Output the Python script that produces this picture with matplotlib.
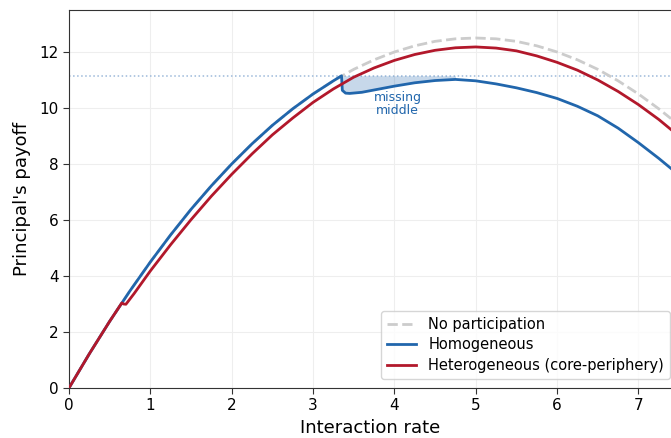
import numpy as np
import matplotlib
matplotlib.use("Agg")
import matplotlib.pyplot as plt

# values
x_none = [0, 0.25, 0.5, 0.75, 1.0, 1.25, 1.5, 1.75, 2.0, 2.25, 2.5, 2.75, 3.0, 3.25,
          3.5, 3.75, 4.0, 4.25, 4.5, 4.75, 5.0, 5.25, 5.5, 5.75, 6.0, 6.25, 6.5, 6.75,
          7.0, 7.25, 7.4]
y_none = [0, 1.22, 2.38, 3.47, 4.5, 5.47, 6.38, 7.22, 8.0, 8.72, 9.38, 9.97, 10.5, 10.97,
          11.38, 11.72, 12.0, 12.22, 12.38, 12.47, 12.5, 12.47, 12.38, 12.22, 12.0, 11.72,
          11.38, 10.97, 10.5, 9.97, 9.62]

x_homo = [0, 0.25, 0.5, 0.75, 1.0, 1.25, 1.5, 1.75, 2.0, 2.25, 2.5, 2.75, 3.0, 3.25,
          3.35, 3.36, 3.4, 3.45, 3.6, 3.8, 4.0, 4.25, 4.5, 4.75, 5.0, 5.25, 5.5, 5.75,
          6.0, 6.25, 6.5, 6.75, 7.0, 7.25, 7.4]
y_homo = [0, 1.22, 2.38, 3.47, 4.5, 5.47, 6.38, 7.22, 8.0, 8.72, 9.38, 9.97, 10.5, 10.97,
          11.15, 10.63, 10.53, 10.52, 10.56, 10.67, 10.78, 10.9, 10.98, 11.02, 10.97, 10.86,
          10.72, 10.55, 10.34, 10.06, 9.72, 9.28, 8.76, 8.2, 7.84]

x_het = [0, 0.25, 0.5, 0.65, 0.67, 0.7, 0.8, 1.0, 1.25, 1.5, 1.75, 2.0, 2.25, 2.5, 2.75,
         3.0, 3.25, 3.5, 3.75, 4.0, 4.25, 4.5, 4.75, 5.0, 5.25, 5.5, 5.75, 6.0, 6.25, 6.5,
         6.75, 7.0, 7.25, 7.4]
y_het = [0, 1.22, 2.38, 3.04, 3.0, 2.99, 3.37, 4.18, 5.12, 6.01, 6.85, 7.63, 8.36, 9.04,
         9.64, 10.2, 10.68, 11.1, 11.43, 11.7, 11.91, 12.06, 12.15, 12.18, 12.14, 12.04,
         11.86, 11.63, 11.35, 11.0, 10.59, 10.12, 9.59, 9.23]

threshold = 11.15
gap_start, gap_end = 3.36, 4.75

blue = '#2166ac'
red = '#b2182b'

fig = plt.figure(figsize=(6.71, 4.38), dpi=100)
ax = fig.add_axes([0.1028, 0.1142, 0.8972, 0.8630])

ax.plot(x_none, y_none, color='#cccccc', lw=2, ls='--', label='No participation', zorder=2)
ax.plot(x_homo, y_homo, color=blue, lw=2, label='Homogeneous', zorder=3)
ax.plot(x_het, y_het, color=red, lw=2, label='Heterogeneous (core-periphery)', zorder=4)

ax.axhline(threshold, color='#9cb9da', lw=1.1, ls=':', zorder=1)

# shade the missing middle
hx = np.array(x_homo)
hy = np.array(y_homo)
m = (hx >= gap_start) & (hx <= gap_end)
ax.fill_between(hx[m], hy[m], threshold, color=blue, alpha=0.25, lw=0, zorder=1)
ax.text(4.04, 10.13, 'missing\nmiddle', color=blue, fontsize=9, ha='center', va='center',
        linespacing=1.0)

ax.set_xlim(0, 7.4)
ax.set_ylim(0, 13.5)
ax.set_xticks(range(0, 8))
ax.set_yticks(range(0, 13, 2))
ax.grid(True, color='#eeeeee', lw=0.8)
ax.set_axisbelow(True)
ax.spines['right'].set_visible(False)
for s in ['left', 'bottom', 'top']:
    ax.spines[s].set_color('#333333')
ax.tick_params(labelsize=11, length=4, color='#333333')

ax.set_xlabel('Interaction rate', fontsize=13)
ax.set_ylabel("Principal's payoff", fontsize=13, labelpad=6)

ax.legend(loc='lower left', bbox_to_anchor=(0.507, 0.005), fontsize=10.5,
          labelspacing=0.38, frameon=True, edgecolor='#cccccc')

fig.savefig('out.png', dpi=100)
